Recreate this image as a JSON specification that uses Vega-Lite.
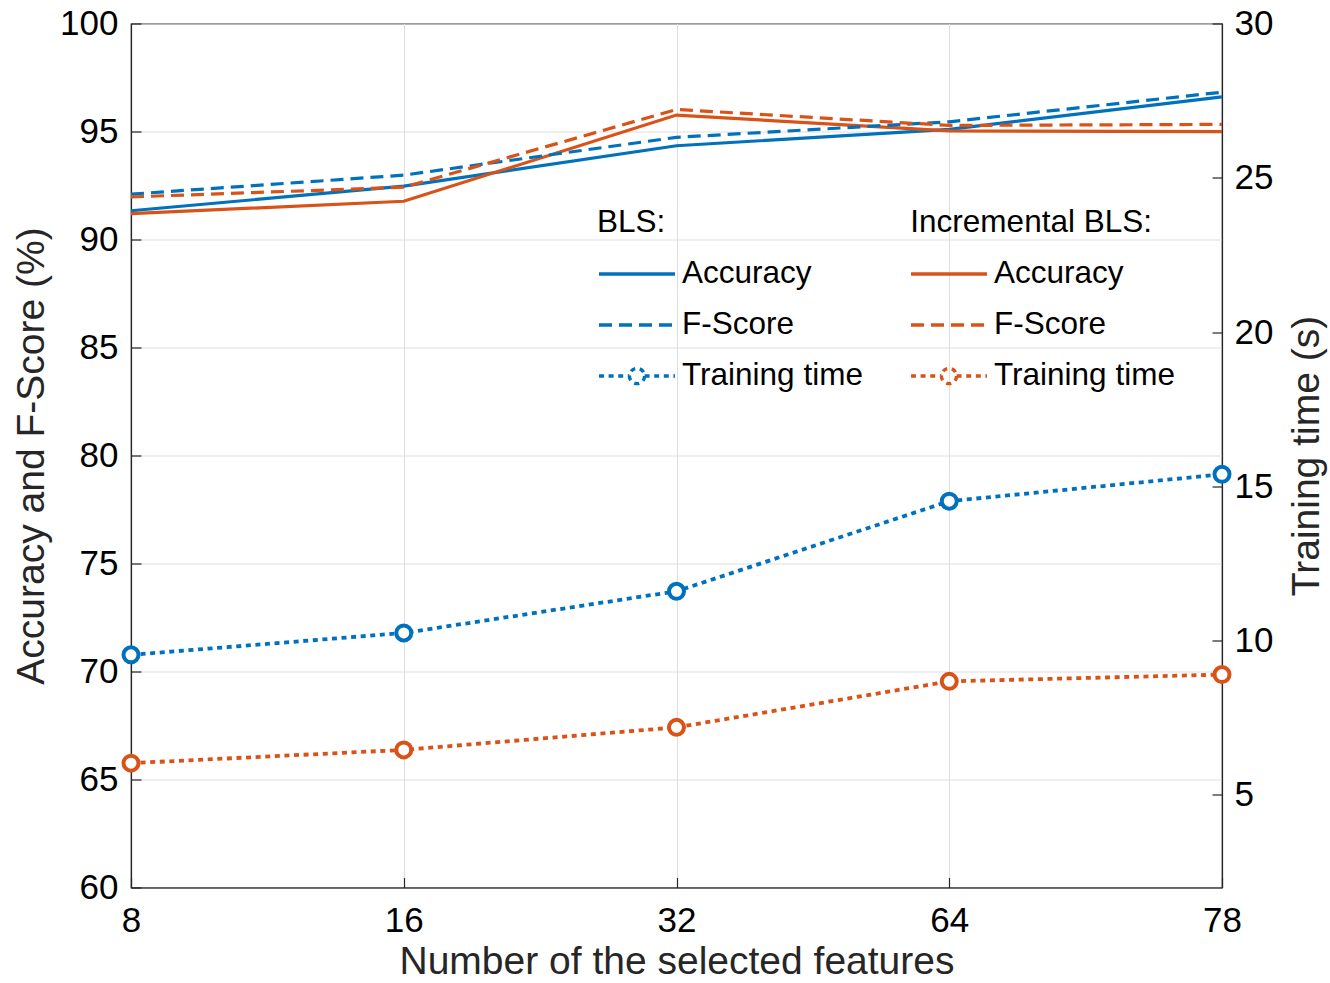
{
  "$schema": "https://vega.github.io/schema/vega-lite/v6.json",
  "width": 1091,
  "height": 864,
  "autosize": {"type": "none"},
  "padding": {"left": 131, "top": 23.5, "right": 108, "bottom": 96},
  "background": "white",
  "config": {
    "font": "Liberation Sans",
    "view": {"stroke": "#262626", "strokeWidth": 1.2},
    "axis": {
      "labelFont": "Liberation Sans",
      "titleFont": "Liberation Sans",
      "labelFontSize": 35,
      "titleFontSize": 39,
      "titleFontWeight": "normal",
      "labelColor": "#000000",
      "titleColor": "#262626",
      "domainColor": "#262626",
      "domainWidth": 1.2,
      "tickColor": "#262626",
      "tickWidth": 1.2,
      "tickSize": -10,
      "gridColor": "#dedede",
      "gridWidth": 1
    },
    "legend": {
      "labelFont": "Liberation Sans",
      "titleFont": "Liberation Sans",
      "labelFontSize": 31.5,
      "titleFontSize": 31.5,
      "titleFontWeight": "normal",
      "labelColor": "#000000",
      "titleColor": "#000000",
      "labelLimit": 1000,
      "titleLimit": 1000
    }
  },
  "encoding": {
    "x": {
      "field": "f",
      "type": "ordinal",
      "scale": {"type": "point", "padding": 0},
      "axis": {
        "title": "Number of the selected features",
        "labelAngle": 0,
        "labelPadding": 26,
        "titlePadding": 4,
        "grid": true
      }
    },
    "color": {
      "field": "series",
      "type": "nominal",
      "scale": {
        "domain": ["BLS|Accuracy", "BLS|F-Score", "BLS|Training time", "IBLS|Accuracy", "IBLS|F-Score", "IBLS|Training time"],
        "range": ["#0072BD", "#0072BD", "#0072BD", "#D95319", "#D95319", "#D95319"]
      },
      "legend": {
        "orient": "none",
        "legendX": 466,
        "legendY": 183,
        "columns": 2,
        "columnPadding": 46,
        "rowPadding": 19,
        "padding": 0,
        "clipHeight": 32,
        "symbolSize": 5776,
        "symbolStrokeWidth": 3.2,
        "labelOffset": 5,
        "titlePadding": 20,
        "labelLimit": 1000,
        "titleLimit": 1000,
        "title": "BLS:\u00a0\u00a0\u00a0\u00a0\u00a0\u00a0\u00a0\u00a0\u00a0\u00a0\u00a0\u00a0\u00a0\u00a0\u00a0\u00a0\u00a0\u00a0\u00a0\u00a0\u00a0\u00a0\u00a0\u00a0\u00a0\u00a0\u00a0\u00a0Incremental BLS:",
        "labelExpr": "split(datum.label, '|')[1]",
        "encode": {
          "symbols": {
            "update": {
              "shape": {"signal": "indexof(datum.value, 'Training') >= 0 ? 'M-1,0H-0.2M0.2,0H1M0.2,0A0.2,0.2,0,1,1,-0.2,0A0.2,0.2,0,1,1,0.2,0' : 'M-1,0H1'"},
              "strokeDash": {"signal": "indexof(datum.value, 'Accuracy') >= 0 ? [] : (indexof(datum.value, 'F-Score') >= 0 ? [13, 7] : [5, 4.6])"},
              "fill": {"value": "transparent"},
              "strokeWidth": {"value": 3.4},
              "opacity": {"value": 1}
            }
          }
        }
      }
    }
  },
  "layer": [
    {
      "encoding": {
        "y": {
          "field": "v",
          "type": "quantitative",
          "scale": {"domain": [60, 100], "nice": false, "zero": false},
          "axis": {
            "orient": "left",
            "title": "Accuracy and F-Score (%)",
            "values": [60, 65, 70, 75, 80, 85, 90, 95, 100],
            "labelPadding": 23,
            "titlePadding": 8,
            "grid": true
          }
        }
      },
      "layer": [
        {
          "data": {"values": [
            {"f": 8, "series": "BLS|Accuracy", "v": 91.33},
            {"f": 16, "series": "BLS|Accuracy", "v": 92.47},
            {"f": 32, "series": "BLS|Accuracy", "v": 94.34},
            {"f": 64, "series": "BLS|Accuracy", "v": 95.1},
            {"f": 78, "series": "BLS|Accuracy", "v": 96.6},
            {"f": 8, "series": "IBLS|Accuracy", "v": 91.2},
            {"f": 16, "series": "IBLS|Accuracy", "v": 91.77},
            {"f": 32, "series": "IBLS|Accuracy", "v": 95.76},
            {"f": 64, "series": "IBLS|Accuracy", "v": 95.03},
            {"f": 78, "series": "IBLS|Accuracy", "v": 94.99}
          ]},
          "mark": {"type": "line", "strokeWidth": 3.2}
        },
        {
          "data": {"values": [
            {"f": 8, "series": "BLS|F-Score", "v": 92.1},
            {"f": 16, "series": "BLS|F-Score", "v": 92.98},
            {"f": 32, "series": "BLS|F-Score", "v": 94.73},
            {"f": 64, "series": "BLS|F-Score", "v": 95.45},
            {"f": 78, "series": "BLS|F-Score", "v": 96.82},
            {"f": 8, "series": "IBLS|F-Score", "v": 91.97},
            {"f": 16, "series": "IBLS|F-Score", "v": 92.42},
            {"f": 32, "series": "IBLS|F-Score", "v": 96.02},
            {"f": 64, "series": "IBLS|F-Score", "v": 95.28},
            {"f": 78, "series": "IBLS|F-Score", "v": 95.33}
          ]},
          "mark": {"type": "line", "strokeWidth": 3.2, "strokeDash": [13, 7]}
        }
      ]
    },
    {
      "data": {"values": [
        {"f": 8, "series": "BLS|Training time", "t": 9.54},
        {"f": 16, "series": "BLS|Training time", "t": 10.25},
        {"f": 32, "series": "BLS|Training time", "t": 11.6},
        {"f": 64, "series": "BLS|Training time", "t": 14.52},
        {"f": 78, "series": "BLS|Training time", "t": 15.39},
        {"f": 8, "series": "IBLS|Training time", "t": 6.03},
        {"f": 16, "series": "IBLS|Training time", "t": 6.46},
        {"f": 32, "series": "IBLS|Training time", "t": 7.19},
        {"f": 64, "series": "IBLS|Training time", "t": 8.68},
        {"f": 78, "series": "IBLS|Training time", "t": 8.9}
      ]},
      "encoding": {
        "y": {
          "field": "t",
          "type": "quantitative",
          "scale": {"domain": [2, 30], "nice": false, "zero": false},
          "axis": {
            "orient": "right",
            "title": "Training time (s)",
            "titleAngle": 270,
            "values": [5, 10, 15, 20, 25, 30],
            "labelPadding": 22,
            "titlePadding": 54,
            "grid": false
          }
        }
      },
      "layer": [
        {"mark": {"type": "line", "strokeWidth": 3.8, "strokeDash": [5, 4.6]}},
        {"mark": {"type": "point", "shape": "circle", "filled": false, "fill": "white", "fillOpacity": 1, "size": 225, "strokeWidth": 4, "opacity": 1}}
      ]
    }
  ],
  "resolve": {"scale": {"y": "independent"}}
}
